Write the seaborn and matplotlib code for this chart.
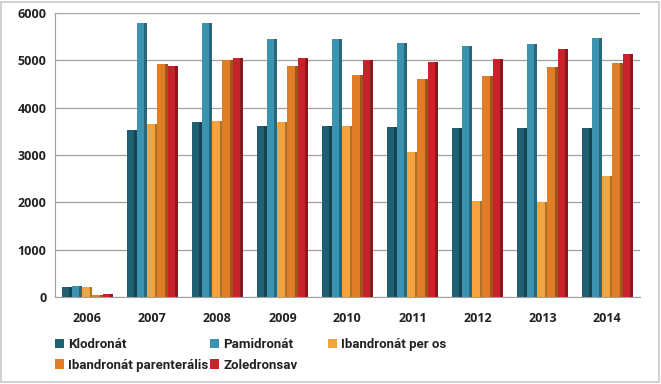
import numpy as np
import pandas as pd
import matplotlib
matplotlib.use("Agg")
import matplotlib.pyplot as plt
from matplotlib.colors import to_rgb
import seaborn as sns

years = ["2006", "2007", "2008", "2009", "2010", "2011", "2012", "2013", "2014"]
series = ["Klodronát", "Pamidronát", "Ibandronát per os",
          "Ibandronát parenterális", "Zoledronsav"]
klodronat = [200, 3520, 3700, 3620, 3620, 3600, 3580, 3560, 3560]
pamidronat = [230, 5780, 5780, 5450, 5460, 5370, 5300, 5350, 5470]
iband_os = [200, 3650, 3720, 3700, 3620, 3060, 2020, 2000, 2550]
iband_par = [30, 4930, 5000, 4880, 4680, 4600, 4660, 4860, 4940]
zoledron = [60, 4890, 5060, 5050, 5010, 4970, 5030, 5250, 5130]
colors = ["#1f6073", "#3b93b0", "#f5a33e", "#e27d27", "#c8222a"]

df = pd.DataFrame({"year": years * 5,
                   "drug": np.repeat(series, len(years)),
                   "value": klodronat + pamidronat + iband_os + iband_par + zoledron})

sns.set_style("white")
plt.rcParams["font.family"] = ["Open Sans", "DejaVu Sans"]

fig = plt.figure(figsize=(6.61, 3.84), dpi=100)
ax = fig.add_axes([0.083, 0.227, 0.885, 0.739])
sns.barplot(data=df, x="year", y="value", hue="drug", palette=colors,
            width=0.78, gap=0.0, ax=ax, edgecolor="none", saturation=1)

# darker right side on each bar, a hint of the 3d look
for p in list(ax.patches):
    w = p.get_width()
    if w <= 0 or p.get_height() <= 0:
        continue
    r, g, b = to_rgb(p.get_facecolor())
    ax.add_patch(plt.Rectangle((p.get_x() + w * 0.72, p.get_y()), w * 0.28,
                               p.get_height(), color=(r * 0.7, g * 0.7, b * 0.7),
                               linewidth=0, zorder=p.get_zorder()))

ax.set_ylim(0, 6000)
ax.set_xlim(-0.5, len(years) - 0.5)
ax.set_yticks(range(0, 6001, 1000))
ax.yaxis.grid(True, color="#a0a0a0", linewidth=0.9)
ax.set_axisbelow(True)
for s in ["top", "right"]:
    ax.spines[s].set_visible(False)
for s in ["left", "bottom"]:
    ax.spines[s].set_color("#a0a0a0")
ax.set_xlabel("")
ax.set_ylabel("")
ax.set_xticks(np.arange(len(years) + 1) - 0.5, minor=True)
ax.tick_params(axis="x", which="minor", length=6, color="#a0a0a0", direction="out")
ax.tick_params(axis="x", which="major", length=0, pad=11)
ax.tick_params(axis="y", length=0, pad=6)
for lab in ax.get_xticklabels() + ax.get_yticklabels():
    lab.set_fontweight("bold")
    lab.set_fontsize(9)
    lab.set_color("#222222")

handles, labels = ax.get_legend_handles_labels()
ax.get_legend().remove()
kw = dict(frameon=False, prop={"family": "Roboto", "weight": "bold", "size": 9.5},
          handlelength=0.7, handleheight=0.7, handletextpad=0.3, labelcolor="#222222")
fig.legend([handles[0], handles[3], handles[1], handles[4]],
           [labels[0], labels[3], labels[1], labels[4]], ncol=2,
           loc="upper left", bbox_to_anchor=(0.065, 0.15),
           columnspacing=0.15, labelspacing=0.55, **kw)
fig.legend([handles[2]], [labels[2]], loc="upper left",
           bbox_to_anchor=(0.478, 0.15), **kw)

fig.patches.append(plt.Rectangle((0.002, 0.004), 0.995, 0.992, transform=fig.transFigure,
                                 fill=False, edgecolor="#c8c8c8", linewidth=1.2))
fig.savefig("out.png", dpi=100)
